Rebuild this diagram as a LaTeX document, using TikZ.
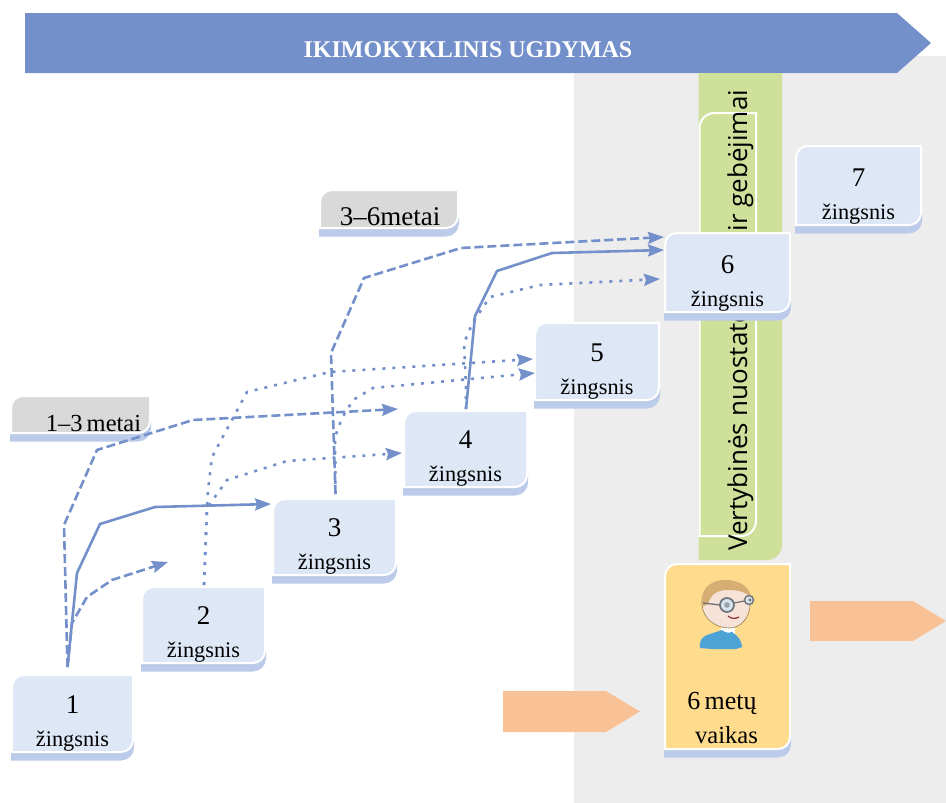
\documentclass[tikz,border=0pt]{standalone}
\usepackage{fontspec}
\setmainfont{Liberation Serif}
\newfontfamily\vfont{Open Sans}
\usetikzlibrary{arrows.meta}
\definecolor{bandblue}{HTML}{7490CA}
\definecolor{cardblue}{HTML}{DEE7F5}
\definecolor{shadeblue}{HTML}{BCCBE9}
\definecolor{bggrey}{HTML}{EDEDED}
\definecolor{labgrey}{HTML}{D9D9D9}
\definecolor{leaf}{HTML}{CFE09B}
\definecolor{sun}{HTML}{FFDB8E}
\definecolor{peach}{HTML}{F9C196}
\definecolor{hair}{HTML}{D6AE74}
\definecolor{skin}{HTML}{F7E2D8}
\definecolor{shirt}{HTML}{4DA3D6}
\definecolor{specs}{HTML}{6E7378}
\definecolor{lens}{HTML}{D5E3EC}
\tikzset{
  x=1pt,y=1pt,
  cardbody/.style={draw=white,line width=2pt,fill=#1},
  cardshade/.style={fill=shadeblue},
  cardanchor/.style={inner sep=0pt,outer sep=0pt},
  digit/.style={anchor=base,inner sep=0pt,font=\fontsize{27}{27}\selectfont,text=black},
  word/.style={anchor=base,inner sep=0pt,font=\fontsize{22.3}{24}\selectfont,text=black},
  flow/.style={draw=bandblue,line width=2.6pt,line join=miter,-{Stealth[length=16pt,width=12pt,inset=2pt]}},
  flowdash/.style={flow,dash pattern=on 9pt off 4pt},
  flowdot/.style={flow,dash pattern=on 3pt off 7pt},
  peachshape/.style={fill=peach},
}
% name, x0, y0, x1, y1, fill
\newcommand\plate[6]{%
  \fill[cardshade] (#2-1,-#5-1) -- (#2-1,-#5-8.5) -- (#4-12,-#5-8.5) arc (-90:0:13) -- (#4+1,-#5+12) -- (#2-1,-#5+12) -- cycle;
  \path[cardbody=#6] (#2,-#5) -- (#2,-#3-12) arc (180:90:12) -- (#4,-#3) -- (#4,-#5+12) arc (0:-90:12) -- cycle;
  \node[cardanchor,minimum width=#4pt-#2pt,minimum height=#5pt-#3pt] (#1) at ({(#2+#4)/2},{-(#3+#5)/2}) {};
}
\newcommand\stepcard[6]{%
  \plate{#1}{#2}{#3}{#4}{#5}{cardblue}
  \node[digit] (#1d) at ([yshift=38.5pt]#1.south) {#6};
  \node[word] (#1w) at ([yshift=5.5pt]#1.south) {žingsnis};
}
\begin{document}
\begin{tikzpicture}
\useasboundingbox (0,-803) rectangle (946,0);
\fill[white] (0,-803) rectangle (946,0);
\fill[bggrey] (574,-803) rectangle (946,-56);
% banner
\fill[bandblue] (25,-13) -- (897,-13) -- (931,-43) -- (897,-73) -- (25,-73) -- cycle;
\node[inner sep=0pt,anchor=base,text=white,font=\bfseries\fontsize{24}{26}\selectfont] (banner) at (468,-57) {IKIMOKYKLINIS UGDYMAS};
% green column
\fill[leaf] (698.5,-73) -- (782,-73) -- (782,-545) arc (0:-90:15) -- (698.5,-560) -- cycle;
\draw[white,line width=2pt] (699.5,-536) -- (699.5,-128) arc (180:90:15) -- (756,-113) -- (756,-521) arc (0:-90:15) -- cycle;
\node[rotate=90,inner sep=0pt,anchor=base west,font=\vfont\fontsize{26}{30}\selectfont,text=black] (values) at (747,-551) {Vertybinės nuostatos\hspace{57pt} ir gebėjimai};
% age labels
\plate{ageA}{11}{396}{150}{433}{labgrey}
\node[word,font=\fontsize{24.5}{26}\selectfont] (ageAt) at (93.5,-431) {1–3\,metai};
\plate{ageB}{320}{190}{458}{228}{labgrey}
\node[word,font=\fontsize{27}{28}\selectfont] (ageBt) at (390,-225) {3–6metai};
% step cards
\stepcard{n1}{12}{675}{133}{752}{1}
\stepcard{n2}{142}{587}{265}{663}{2}
\stepcard{n3}{273}{499}{396}{575}{3}
\stepcard{n4}{404}{411}{527}{487}{4}
\stepcard{n5}{535}{323}{659}{400}{5}
\stepcard{n6}{665}{233}{790}{312}{6}
\stepcard{n7}{796}{146}{921}{225}{7}
% child card
\plate{kid}{665}{564}{790}{749}{sun}
\node[word,font=\fontsize{26}{28}\selectfont] (kidA) at (722,-709) {6\,metų};
\node[word,font=\fontsize{24.6}{28}\selectfont] (kidB) at (726.5,-743) {vaikas};
% child figure
\fill[white] (721,-624) -- (735,-624) -- (735,-634) -- (721,-634) -- cycle;
\fill[shirt] (700,-648) .. controls (699,-641) and (702,-637) .. (707,-635) -- (722,-630) .. controls (725,-633) and (729,-633) .. (732,-632) .. controls (738,-636) and (742,-641) .. (742,-647) -- (736,-649) -- (712,-649) -- cycle;
\fill[skin,draw=hair!70!black,line width=.6pt] (702,-605) .. controls (702,-595) and (708,-583) .. (727,-582) .. controls (742,-582) and (751,-592) .. (750,-606) .. controls (749,-618) and (741,-628) .. (729,-628) .. controls (715,-628) and (703,-618) .. (702,-605) -- cycle;
\fill[hair] (702,-607) .. controls (699,-592) and (708,-580) .. (725,-580) .. controls (739,-580) and (749,-586) .. (751,-597) .. controls (744,-591) and (736,-590) .. (728,-590) .. controls (717,-590) and (711,-594) .. (708,-604) -- cycle;
\draw[specs,line width=1.3pt] (703,-603) -- (720,-605);
\draw[specs,line width=1.7pt,fill=lens] (727,-605) circle (7);
\fill[specs!60!lens] (727,-605) circle (2.8);
\draw[specs,line width=1.4pt,fill=lens] (749,-600) circle (4.5);
\fill[specs] (750,-600) circle (1.6);
\draw[specs,line width=1.2pt] (734,-603) -- (744.5,-601);
\draw[red!40!black!80!white,line width=1.2pt] (728,-616) .. controls (731,-619) and (736,-619) .. (739,-617);
% peach arrows
\fill[peachshape] (503,-691) -- (606,-691) -- (640,-711.5) -- (606,-732) -- (503,-732) -- cycle;
\fill[peachshape] (810,-601) -- (913,-601) -- (946,-621) -- (913,-641) -- (810,-641) -- cycle;
% connectors
\coordinate (from1) at ([xshift=-5pt,yshift=8pt]n1.north);
\coordinate (to2) at (168,-562);
\draw[flowdash] (from1) -- (72,-623) -- (87,-597) -- (112,-580) -- (to2);
\draw[flowdash] (from1) -- (64,-525) -- (97,-450) -- (193,-420) -- ([xshift=-6pt,yshift=2pt]n4.north west);
\draw[flow] (from1) -- (77,-573) -- (100,-524) -- (155,-507) -- ([xshift=-2pt,yshift=-5pt]n3.north west);
\coordinate (from2) at ([xshift=0.5pt,yshift=2pt]n2.north);
\draw[flowdot] (from2) -- (207,-508) -- (208,-490) -- (212,-457) -- (247,-392) -- (330,-372) -- ([xshift=-2pt,yshift=-36pt]n5.north west);
\draw[flowdot] (from2) -- (207,-508) -- (227,-480) -- (287,-461) -- ([xshift=-2pt,yshift=-42pt]n4.north west);
\coordinate (from3) at ([xshift=1pt,yshift=5pt]n3.north);
\draw[flowdash] (from3) -- (331,-353) -- (364,-278) -- (461,-248) -- ([xshift=-1pt,yshift=-4pt]n6.north west);
\draw[flowdot] (from3) -- (335,-437) -- (342,-418) -- (353,-400) -- (373,-388) -- ([yshift=-50pt]n5.north west);
\coordinate (from4) at ([xshift=0.5pt,yshift=2pt]n4.north);
\draw[flow] (from4) -- (475,-316) -- (497,-271) -- (552,-253) -- ([xshift=-1pt,yshift=-17pt]n6.north west);
\draw[flowdot] (from4) -- (466,-387) -- (464,-343) -- (473,-322) -- (490,-297) -- (540,-285) -- ([xshift=-5pt,yshift=-46pt]n6.north west);
\end{tikzpicture}
\end{document}
